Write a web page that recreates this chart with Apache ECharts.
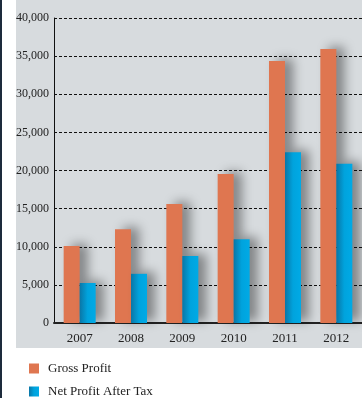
<!DOCTYPE html>
<html>
<head>
<meta charset="utf-8">
<script src="https://cdn.jsdelivr.net/npm/echarts@6/dist/echarts.min.js"></script>
<style>
  html, body { margin: 0; padding: 0; background: #ffffff; }
  #chart { width: 362px; height: 398px; }
</style>
</head>
<body>
<div id="chart"></div>
<script>
// Yearly results
const years = ['2007', '2008', '2009', '2010', '2011', '2012'];
const grossProfit = [10100, 12300, 15600, 19550, 34350, 35950];
const netProfitAfterTax = [5250, 6450, 8800, 11000, 22400, 20900];
const yTicks = { min: 0, max: 40000, step: 5000 };

const serif = '"Liberation Serif", "DejaVu Serif", serif';
const chart = echarts.init(document.getElementById('chart'), null, { renderer: 'canvas' });

const barShadow = {
  shadowColor: 'rgba(0,0,0,0.4)',
  shadowBlur: 11,
  shadowOffsetX: 8,
  shadowOffsetY: -2
};

chart.setOption({
  animation: false,
  textStyle: { fontFamily: serif },
  graphic: [
    { type: 'rect', z: -10, silent: true, shape: { x: 0, y: 0, width: 2, height: 398 }, style: { fill: '#1d2b3c' } },
    { type: 'rect', z: -10, silent: true, shape: { x: 16, y: 0, width: 346, height: 348 }, style: { fill: '#d7dbde' } }
  ],
  grid: { left: 54, top: 18, width: 310, bottom: 75, containLabel: false },
  legend: {
    orient: 'vertical',
    left: 29,
    top: 362,
    height: 60,
    padding: 0,
    icon: 'rect',
    itemWidth: 10,
    itemHeight: 10,
    itemGap: 10,
    textStyle: { fontFamily: serif, fontSize: 13, color: '#222', padding: [0, 0, 0, 4] },
    data: ['Gross Profit', 'Net Profit After Tax']
  },
  xAxis: {
    type: 'category',
    data: years,
    axisLine: { lineStyle: { color: '#222', width: 2 } },
    axisTick: { show: false },
    axisLabel: { fontFamily: serif, fontSize: 13, color: '#222', margin: 9 }
  },
  yAxis: {
    type: 'value',
    min: yTicks.min,
    max: yTicks.max,
    interval: yTicks.step,
    axisLine: { show: true, lineStyle: { color: '#111', width: 1 } },
    axisTick: { show: false },
    axisLabel: {
      fontFamily: serif, fontSize: 12, color: '#222', margin: 5,
      formatter: v => v.toLocaleString('en-US')
    },
    splitLine: { lineStyle: { color: '#111', type: [3, 2], width: 1 } }
  },
  series: [
    {
      name: 'Gross Profit',
      type: 'bar',
      data: grossProfit,
      barWidth: 16,
      barGap: '0%',
      itemStyle: Object.assign({ color: '#df7650' }, barShadow)
    },
    {
      name: 'Net Profit After Tax',
      type: 'bar',
      data: netProfitAfterTax,
      barWidth: 16,
      itemStyle: Object.assign({
        color: new echarts.graphic.LinearGradient(0, 0, 1, 0, [
          { offset: 0, color: '#0a76a6' },
          { offset: 0.5, color: '#00a3dd' },
          { offset: 1, color: '#00aae6' }
        ])
      }, barShadow)
    }
  ]
});
</script>
</body>
</html>
